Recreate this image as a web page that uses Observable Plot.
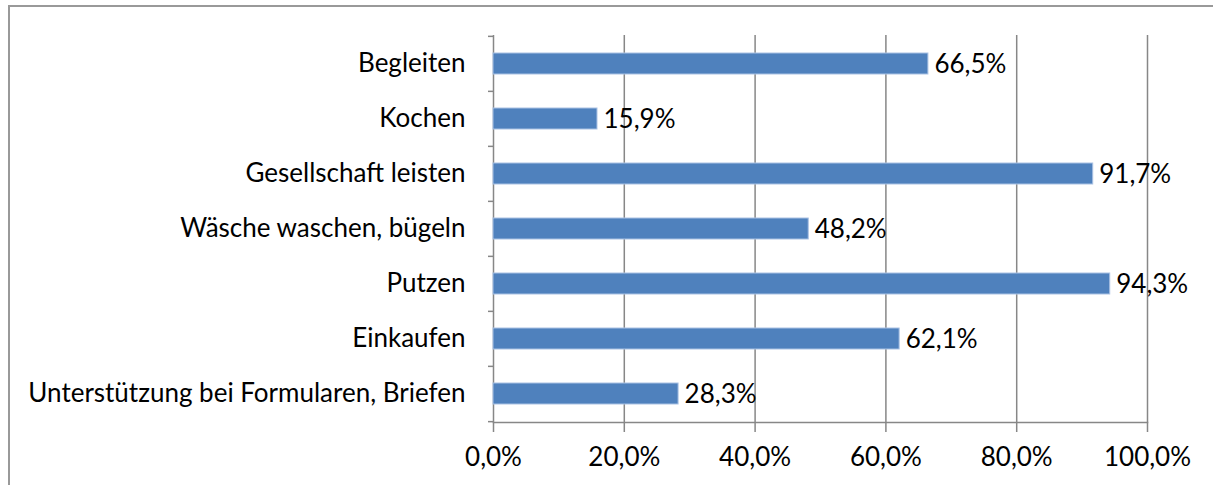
<!DOCTYPE html>
<html>
<head>
<meta charset="utf-8">
<script src="https://cdn.jsdelivr.net/npm/d3@7"></script>
<script src="https://cdn.jsdelivr.net/npm/@observablehq/plot@0.6"></script>
<style>
  html, body { margin: 0; padding: 0; background: #fff; }
  #wrap { position: relative; width: 1213px; height: 485px; overflow: hidden; }
  #border { position: absolute; left: 8px; top: 5px; width: 1300px; height: 600px;
            border-left: 2px solid #999; border-top: 2px solid #999; pointer-events: none; }
  #chart svg { display: block; }
</style>
</head>
<body>
<div id="wrap">
  <div id="chart"></div>
  <div id="border"></div>
</div>
<script>
const categories = [
  "Begleiten",
  "Kochen",
  "Gesellschaft leisten",
  "Wäsche waschen, bügeln",
  "Putzen",
  "Einkaufen",
  "Unterstützung bei Formularen, Briefen"
];
const values = [66.5, 15.9, 91.7, 48.2, 94.3, 62.1, 28.3];
const xTicks = [0, 20, 40, 60, 80, 100];

const data = categories.map((c, i) => ({category: c, value: values[i]}));

const num = d3.formatLocale({decimal: ",", thousands: ".", grouping: [3], currency: ["", " €"]}).format(".1f");
const fmt = v => num(v) + "%";

const W = 1213, H = 485, mT = 35, mB = 63, mL = 493, mR = 66;
const step = (H - mT - mB) / categories.length;
const grey = "#878787";
const FS = 26;

const chart = Plot.plot({
  width: W,
  height: H,
  marginLeft: mL,
  marginRight: mR,
  marginTop: mT,
  marginBottom: mB,
  style: {fontFamily: "Lato, 'Open Sans', sans-serif", fontSize: FS + "px", color: "#000", background: "transparent"},
  x: {domain: [0, 100]},
  y: {domain: categories, paddingInner: 0.62, paddingOuter: 0.31},
  marks: [
    Plot.ruleX(xTicks, {stroke: grey, strokeWidth: 1.5}),
    Plot.frame({anchor: "bottom", stroke: grey, strokeWidth: 1.5}),
    Plot.barX(data, {x: "value", y: "category", fill: "#4f81bd", stroke: "#a9c1e3", strokeWidth: 1}),
    Plot.text(data, {x: "value", y: "category", text: d => fmt(d.value), textAnchor: "start", dx: 6, dy: 1, fontSize: FS, fill: "#000"}),
    Plot.axisX({ticks: xTicks, tickFormat: fmt, tickSize: 10, tickPadding: 15, stroke: grey, strokeWidth: 1.5, label: null, fontSize: FS, fill: "#000"}),
    Plot.axisY({tickSize: 0, tickPadding: 28, label: null, fontSize: FS, fill: "#000"}),
    Plot.axisY({tickSize: 5, tickFormat: () => "", label: null, dy: -step / 2, stroke: grey, strokeWidth: 1.5}),
    Plot.axisY({ticks: [categories[categories.length - 1]], tickSize: 5, tickFormat: () => "", label: null, dy: step / 2, stroke: grey, strokeWidth: 1.5})
  ]
});
document.getElementById("chart").appendChild(chart);
</script>
</body>
</html>
